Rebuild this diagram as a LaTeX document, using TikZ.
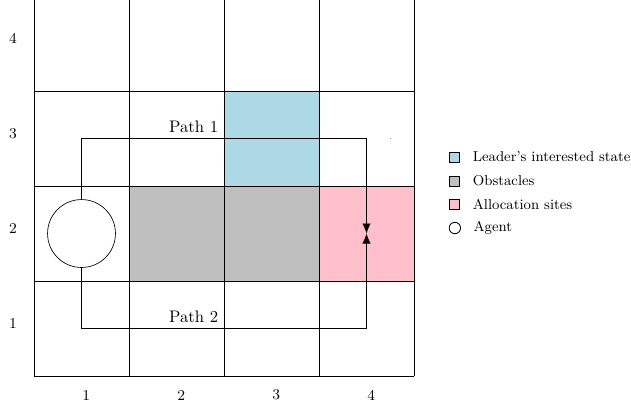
\documentclass[tikz,border=0pt]{standalone}
\usetikzlibrary{positioning,arrows.meta}
\definecolor{leaderblue}{RGB}{173,216,230}
\definecolor{obstgray}{RGB}{191,191,191}
\definecolor{sitepink}{RGB}{255,192,203}

\begin{document}
\begin{tikzpicture}[
                    x=2cm, y=2cm,
                    cellgrid/.style={line width=0.5pt, step=2cm},
                    pathline/.style={
                        line width=0.4pt,
                        -{Latex[length=6pt,width=5pt]}
                    },
                    agentnode/.style={
                        circle, draw,
                        minimum size=1.43cm,
                        inner sep=0pt
                    },
                    axislabel/.style={font=\small},
                    legbox/.style={
                        draw, line width=0.5pt,
                        minimum size=2.1mm,
                        inner sep=0pt
                    },
                    legtext/.style={
                        font=\fontsize{8.6}{10}\selectfont
                    },
                    node distance=4pt
                ]
    \useasboundingbox (-0.358,-0.337) rectangle (6.284,3.958);

    % cells
    \fill[leaderblue] (2,2) rectangle (3,3);
    \fill[obstgray] (1,1) rectangle (3,2);
    \fill[sitepink] (3,1) rectangle (4,2);
    \draw[cellgrid] (0,0) grid (4,4);

    % axis numbers
    \foreach \i in {1,...,4} {
        \node[axislabel] (col\i) at (\i-0.45,-0.2) {\i};
        \node[axislabel] (row\i) at (-0.22,\i-0.45) {\i};
    }

    % agent and its two paths
    \node[agentnode] (agent) at (0.5,1.5) {};
    \coordinate (corner1) at (3.5,2.5);
    \coordinate (corner2) at (3.5,0.5);
    \coordinate (meet) at (3.5,1.5);
    \draw[pathline] (agent.north) |- (corner1) -- (meet);
    \draw[pathline] (agent.south) |- (corner2) -- (meet);
    \node[above left] (lbl1) at (2,2.5) {Path 1};
    \node[above left] (lbl2) at (2,0.5) {Path 2};
    \fill[gray] (3.75,2.5) circle (0.3pt);

    % legend
    \node[legbox, fill=leaderblue] (key1) at (4.43,2.305) {};
    \node[legbox, fill=obstgray] (key2) at (4.43,2.053) {};
    \node[legbox, fill=sitepink] (key3) at (4.43,1.81) {};
    \node[legbox, circle, minimum size=2.4mm] (key4) at (4.43,1.558) {};
    \node[legtext, right=of key1] (txt1) {Leader's interested state};
    \node[legtext, right=of key2] (txt2) {Obstacles};
    \node[legtext, right=of key3] (txt3) {Allocation sites};
    \node[legtext, right=of key4] (txt4) {Agent};
\end{tikzpicture}
\end{document}
